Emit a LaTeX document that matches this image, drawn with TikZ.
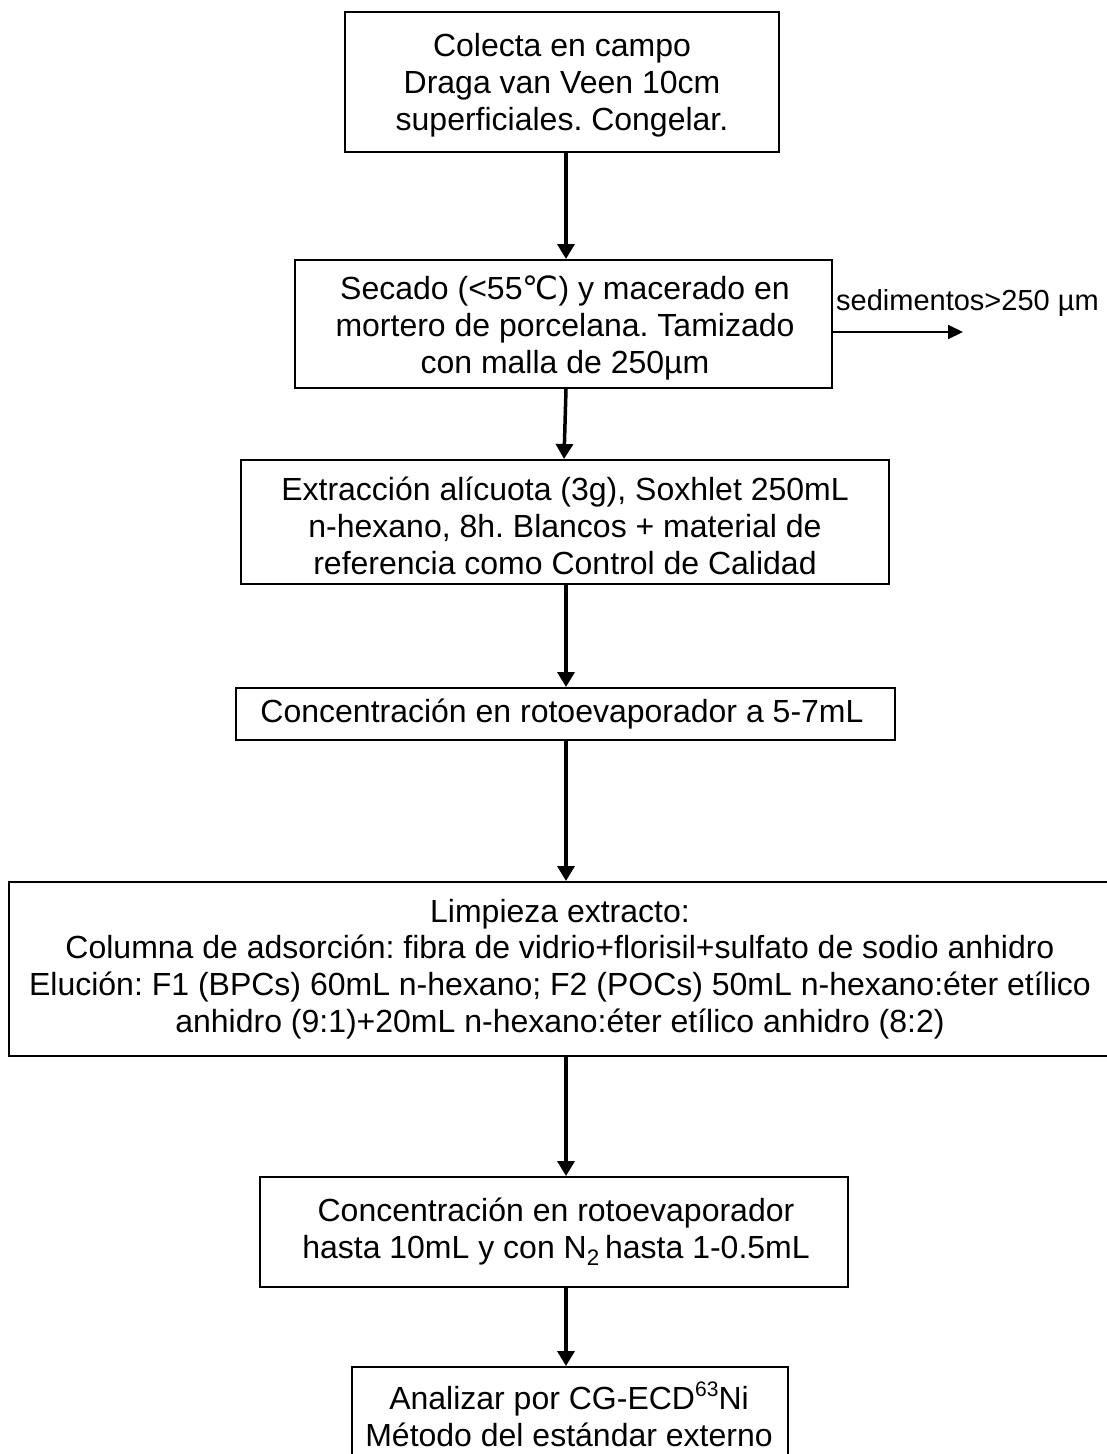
\documentclass[tikz,border=0pt]{standalone}
\usepackage{fontspec}
\setmainfont{Liberation Sans}
\newfontfamily\dejavu{DejaVu Sans}
\usetikzlibrary{arrows.meta}
\frenchspacing
\newcommand{\supnum}[1]{\raisebox{0.42em}{\fontsize{21}{21}\selectfont #1}}
\begin{document}
\begin{tikzpicture}[x=1pt,y=-1pt,
  box/.style={draw, line width=2pt, inner sep=0pt},
  txt/.style={inner sep=0pt, align=center, font=\fontsize{32}{36.8}\selectfont},
  flow/.style={line width=3.5pt, -{Triangle[length=15pt,width=17pt]}},
  side/.style={line width=2pt, -{Triangle[length=15pt,width=14pt]}},
]
\useasboundingbox (0,0) rectangle (1107,1454);
\clip (0,0) rectangle (1107,1454);

% process steps: frame, then its text
\node[box, minimum width=434pt, minimum height=140pt] (colecta) at (562,82) {};
\node[txt] (colectaT) at (562,85)
  {Colecta en campo\\Draga van Veen 10cm\\superficiales. Congelar.};

\node[box, minimum width=537pt, minimum height=128pt] (secado) at (563.5,324) {};
\node[txt] (secadoT) at (565,328)
  {Secado (<55{\dejavu ℃}) y macerado en\\mortero de porcelana. Tamizado\\con malla de 250µm};

\node[box, minimum width=648pt, minimum height=124pt] (extraccion) at (565,522) {};
\node[txt] (extraccionT) at (565,526)
  {Extracción alícuota (3g), Soxhlet 250mL\\n-hexano, 8h. Blancos + material de\\referencia como Control de Calidad};

\node[box, minimum width=659pt, minimum height=52pt] (conc1) at (565.5,714) {};
\node[txt] (conc1T) at (562,714) {Concentración en rotoevaporador a 5-7mL};

\node[box, minimum width=1111pt, minimum height=174pt] (limpieza) at (564.5,969) {};
\node[txt] (limpiezaT) at (560,969)
  {Limpieza extracto:\\Columna de adsorción: fibra de vidrio+florisil+sulfato de sodio anhidro\\Elución: F1 (BPCs) 60mL n-hexano; F2 (POCs) 50mL n-hexano:éter etílico\\anhidro (9:1)+20mL n-hexano:éter etílico anhidro (8:2)};

\node[box, minimum width=588pt, minimum height=110pt] (conc2) at (554,1232) {};
\node[txt] (conc2T) at (556,1232)
  {Concentración en rotoevaporador\\hasta 10mL y con N\textsubscript{2}\,hasta 1-0.5mL};

\node[box, minimum width=436pt, minimum height=110pt] (analizar) at (570,1422) {};
\node[txt] (analizarT) at (569,1414)
  {Analizar por CG-ECD\supnum{63}Ni\\Método del estándar externo};

% main flow
\draw[flow] ([xshift=4pt]colecta.south) -- ([xshift=2.5pt]secado.north);
\draw[flow] ([xshift=2.5pt]secado.south) -- ([xshift=-1pt]extraccion.north);
\draw[flow] ([xshift=1pt]extraccion.south) -- ([xshift=0.5pt]conc1.north);
\draw[flow] ([xshift=0.5pt]conc1.south) -- ([xshift=1.5pt]limpieza.north);
\draw[flow] ([xshift=1.5pt]limpieza.south) -- ([xshift=12pt]conc2.north);
\draw[flow] ([xshift=12pt]conc2.south) -- ([xshift=-4pt]analizar.north);

% sieved-out fraction
\coordinate (rechazo) at (963,332);
\draw[side] (secado.east |- rechazo) -- (rechazo);
\node[txt, anchor=west, font=\fontsize{29}{33}\selectfont] (sedimentos) at (836,303)
  {sedimentos>250 µm};
\end{tikzpicture}
\end{document}
